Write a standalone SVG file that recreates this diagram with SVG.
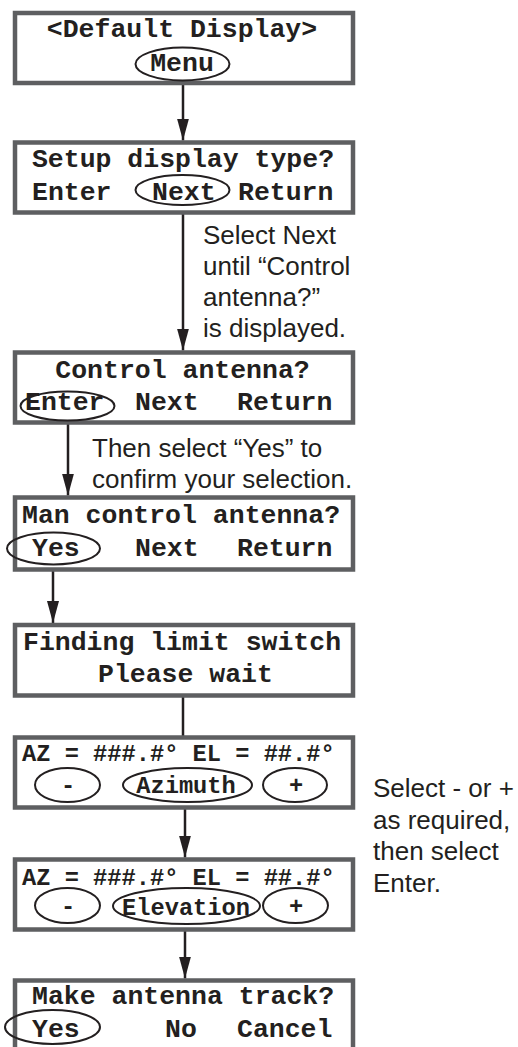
<svg xmlns="http://www.w3.org/2000/svg" width="518" height="1047" viewBox="0 0 518 1047">
<style>
.box{fill:#fff;stroke:#5e5f61;stroke-width:4.5}
.ov{fill:none;stroke:#231f20;stroke-width:2}
.m{font-family:"Liberation Mono","Courier New",monospace;font-weight:bold;font-size:26.5px;fill:#231f20}
.s{font-family:"Liberation Mono","Courier New",monospace;font-weight:bold;font-size:23.7px;fill:#231f20}
.c{text-anchor:middle}
.n{font-family:"Liberation Sans",Arial,sans-serif;font-size:26px;fill:#231f20}
.ln{stroke:#231f20;stroke-width:2.5;fill:none}
</style>
<defs>
<marker id="ar" markerUnits="userSpaceOnUse" markerWidth="22" markerHeight="12" viewBox="0 0 22 12" refX="22" refY="6" orient="auto">
<path d="M0,0 L22,6 L0,12 Z" fill="#231f20"/>
</marker>
</defs>

<g id="connectors">
<line class="ln" x1="183" y1="81" x2="183" y2="140.5" marker-end="url(#ar)"/>
<line class="ln" x1="183" y1="205" x2="183" y2="350.5" marker-end="url(#ar)"/>
<line class="ln" x1="68" y1="420" x2="68" y2="495.5" marker-end="url(#ar)"/>
<line class="ln" x1="53" y1="564" x2="53" y2="623" marker-end="url(#ar)"/>
<line class="ln" x1="183" y1="697" x2="183" y2="736"/>
<line class="ln" x1="185" y1="802" x2="185" y2="857.5" marker-end="url(#ar)"/>
<line class="ln" x1="185" y1="923" x2="185" y2="978.5" marker-end="url(#ar)"/>
</g>

<g id="default-display">
<rect class="box" x="15" y="13" width="338" height="70"/>
<text class="m c" x="182" y="37">&lt;Default Display&gt;</text>
<ellipse class="ov" cx="182.5" cy="64" rx="47" ry="16.5"/>
<text class="m c" x="182" y="71">Menu</text>
</g>

<g id="setup-display">
<rect class="box" x="15" y="142.5" width="338" height="70"/>
<text class="m c" x="183" y="167">Setup display type?</text>
<text class="m" x="32" y="200">Enter</text>
<ellipse class="ov" cx="182.5" cy="190" rx="47" ry="15"/>
<text class="m" x="152" y="200">Next</text>
<text class="m" x="238" y="200">Return</text>
</g>

<g id="note-next">
<text class="n" x="203" y="243.5">Select Next</text>
<text class="n" x="203" y="274.5">until “Control</text>
<text class="n" x="203" y="305.5">antenna?”</text>
<text class="n" x="203" y="336.5">is displayed.</text>
</g>

<g id="control-antenna">
<rect class="box" x="15" y="352.5" width="338" height="70"/>
<text class="m c" x="182.5" y="378">Control antenna?</text>
<ellipse class="ov" cx="67.5" cy="406" rx="47" ry="14.5"/>
<text class="m" x="25" y="410">Enter</text>
<text class="m" x="135" y="410">Next</text>
<text class="m" x="237" y="410">Return</text>
</g>

<g id="note-yes">
<text class="n" x="92" y="456.5">Then select “Yes” to</text>
<text class="n" x="92" y="488">confirm your selection.</text>
</g>

<g id="man-control">
<rect class="box" x="15" y="497.5" width="338" height="72"/>
<text class="m" x="22" y="523">Man control antenna?</text>
<ellipse class="ov" cx="53.5" cy="548.5" rx="46.5" ry="16"/>
<text class="m" x="32" y="556">Yes</text>
<text class="m" x="135" y="556">Next</text>
<text class="m" x="237" y="556">Return</text>
</g>

<g id="finding-limit">
<rect class="box" x="15" y="625" width="338" height="70.5"/>
<text class="m" x="23" y="650">Finding limit switch</text>
<text class="m" x="98" y="682">Please wait</text>
</g>

<g id="azimuth">
<rect class="box" x="15" y="737.5" width="338" height="70"/>
<text class="s" x="22" y="761">AZ = ###.#° EL = ##.#°</text>
<ellipse class="ov" cx="67.5" cy="785" rx="32.5" ry="17"/>
<text class="s c" x="68" y="793">-</text>
<ellipse class="ov" cx="187.5" cy="785" rx="64.5" ry="17"/>
<text class="s c" x="186" y="793">Azimuth</text>
<ellipse class="ov" cx="295" cy="785" rx="32" ry="17"/>
<text class="s c" x="296" y="793">+</text>
</g>

<g id="note-select">
<text class="n" x="373" y="797">Select - or +</text>
<text class="n" x="373" y="828.5">as required,</text>
<text class="n" x="373" y="860">then select</text>
<text class="n" x="373" y="891.5">Enter.</text>
</g>

<g id="elevation">
<rect class="box" x="15" y="859.5" width="338" height="70"/>
<text class="s" x="22" y="885">AZ = ###.#° EL = ##.#°</text>
<ellipse class="ov" cx="67.5" cy="905.5" rx="32.5" ry="17.5"/>
<text class="s c" x="68" y="914">-</text>
<ellipse class="ov" cx="186.5" cy="906" rx="73.5" ry="18"/>
<text class="s c" x="186" y="915">Elevation</text>
<ellipse class="ov" cx="295.5" cy="905.5" rx="32.5" ry="17.5"/>
<text class="s c" x="296" y="914">+</text>
</g>

<g id="make-track">
<rect class="box" x="15" y="980.5" width="338" height="80"/>
<text class="m" x="32" y="1004">Make antenna track?</text>
<ellipse class="ov" cx="52.5" cy="1027" rx="47.5" ry="17"/>
<text class="m" x="32" y="1037">Yes</text>
<text class="m" x="165" y="1037">No</text>
<text class="m" x="237" y="1037">Cancel</text>
</g>
</svg>
